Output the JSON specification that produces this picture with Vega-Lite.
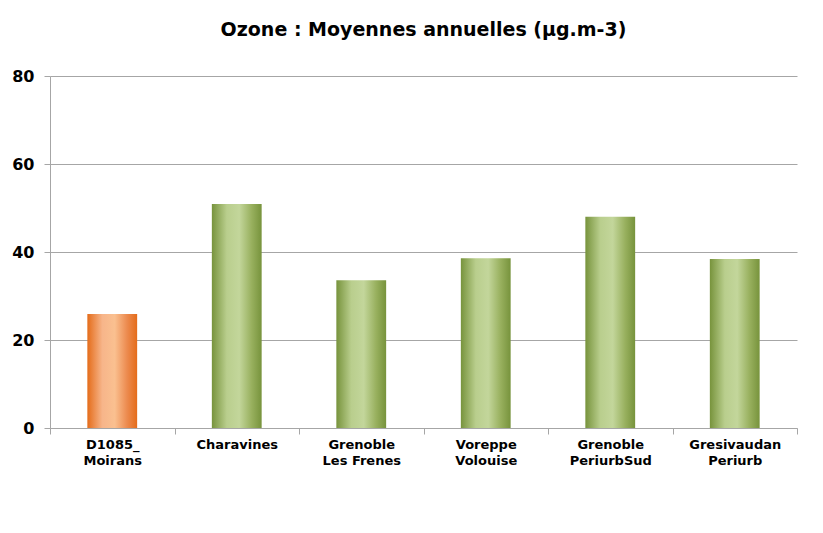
{
  "$schema": "https://vega.github.io/schema/vega-lite/v6.json",
  "width": 747,
  "height": 352,
  "autosize": {"type": "none"},
  "padding": {"left": 50, "top": 76, "right": 26, "bottom": 105},
  "background": "white",
  "title": {
    "text": "Ozone : Moyennes annuelles (µg.m-3)",
    "font": "DejaVu Sans",
    "fontSize": 19,
    "fontWeight": "bold",
    "color": "#000000",
    "anchor": "middle",
    "offset": 28
  },
  "data": {
    "values": [
      {"station": "D1085_\nMoirans", "valeur": 25.9, "type": "site"},
      {"station": "Charavines", "valeur": 50.9, "type": "ref"},
      {"station": "Grenoble\nLes Frenes", "valeur": 33.6, "type": "ref"},
      {"station": "Voreppe\nVolouise", "valeur": 38.6, "type": "ref"},
      {"station": "Grenoble\nPeriurbSud", "valeur": 48.0, "type": "ref"},
      {"station": "Gresivaudan\nPeriurb", "valeur": 38.4, "type": "ref"}
    ]
  },
  "encoding": {
    "x": {
      "field": "station",
      "type": "nominal",
      "sort": null,
      "scale": {"paddingInner": 0, "paddingOuter": 0},
      "axis": {
        "title": null,
        "labelAngle": 0,
        "labelExpr": "isString(datum.value) ? split(datum.value, '\\n') : ''",
        "labelFont": "DejaVu Sans",
        "labelFontSize": 13,
        "labelFontWeight": "bold",
        "labelColor": "#000000",
        "labelLineHeight": 16,
        "labelPadding": 4,
        "tickBand": "extent",
        "tickSize": 6,
        "tickColor": "#a6a6a6",
        "domainColor": "#a6a6a6",
        "grid": false
      }
    },
    "y": {
      "field": "valeur",
      "type": "quantitative",
      "scale": {"domain": [0, 80], "nice": false},
      "axis": {
        "title": null,
        "values": [0, 20, 40, 60, 80],
        "labelFont": "DejaVu Sans",
        "labelFontSize": 16,
        "labelFontWeight": "bold",
        "labelColor": "#000000",
        "labelPadding": 10,
        "tickSize": 6,
        "tickColor": "#a6a6a6",
        "domainColor": "#a6a6a6",
        "grid": true,
        "gridColor": "#a6a6a6",
        "gridWidth": 1
      }
    }
  },
  "layer": [
    {
      "transform": [{"filter": "datum.type === 'site'"}],
      "mark": {
        "type": "bar",
        "width": {"band": 0.4},
        "fill": {
          "gradient": "linear",
          "x1": 0, "y1": 0, "x2": 1, "y2": 0,
          "stops": [
            {"offset": 0, "color": "#E46C1A"},
            {"offset": 0.3, "color": "#F7B58A"},
            {"offset": 0.55, "color": "#FAC090"},
            {"offset": 0.8, "color": "#EC8A4E"},
            {"offset": 1, "color": "#E46C1A"}
          ]
        }
      }
    },
    {
      "transform": [{"filter": "datum.type === 'ref'"}],
      "mark": {
        "type": "bar",
        "width": {"band": 0.4},
        "fill": {
          "gradient": "linear",
          "x1": 0, "y1": 0, "x2": 1, "y2": 0,
          "stops": [
            {"offset": 0, "color": "#77933C"},
            {"offset": 0.3, "color": "#B9CE8D"},
            {"offset": 0.55, "color": "#C3D69B"},
            {"offset": 0.8, "color": "#98B05E"},
            {"offset": 1, "color": "#77933C"}
          ]
        }
      }
    }
  ],
  "config": {"view": {"stroke": null}}
}
